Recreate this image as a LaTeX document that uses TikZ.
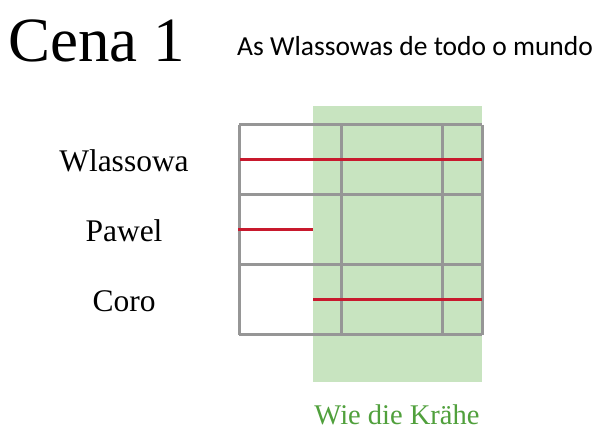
\documentclass[tikz,border=0pt]{standalone}
\usepackage{fontspec}
\setmainfont{Liberation Serif}
\newfontfamily\sansf{Carlito}
\definecolor{gfill}{RGB}{200,228,192}
\definecolor{ggrid}{RGB}{150,150,150}
\definecolor{rline}{RGB}{200,25,45}
\definecolor{gtext}{RGB}{80,160,60}
\tikzset{
  gridline/.style={draw=ggrid,line width=3pt},
  roleline/.style={draw=rline,line width=3pt},
  rolelabel/.style={inner sep=0pt,font=\fontsize{31.5}{36}\selectfont},
}
\begin{document}
\begin{tikzpicture}[x=1pt,y=-1pt]
\useasboundingbox (0,0) rectangle (595,430);
\fill[white] (0,0) rectangle (595,430);
% green band
\fill[gfill] (313,106) rectangle (482,382);
% grid
\foreach \yy in {125,195,265,335} \draw[gridline] (239,\yy) -- (482,\yy);
\foreach \xx in {239,341,442,482} \draw[gridline] (\xx,125) -- (\xx,335);
% red role lines
\coordinate (w1) at (240,160); \coordinate (w2) at (482,160);
\coordinate (p1) at (238,230); \coordinate (p2) at (313,230);
\coordinate (c1) at (313,300); \coordinate (c2) at (482,300);
\draw[roleline] (w1) -- (w2);
\draw[roleline] (p1) -- (p2);
\draw[roleline] (c1) -- (c2);
% texts
\node[anchor=base west,inner sep=0pt,font=\fontsize{63}{72}\selectfont] (title) at (8,62) {Cena 1};
\node[anchor=base west,inner sep=0pt,font=\sansf\fontsize{27.5}{32}\selectfont] (sub) at (237,56) {As Wlassowas de todo o mundo};
\node[rolelabel,anchor=base] (wl) at (124,172) {Wlassowa};
\node[rolelabel,anchor=base] (pa) at (124,242) {Pawel};
\node[rolelabel,anchor=base] (co) at (124,312) {Coro};
\node[anchor=base,inner sep=0pt,text=gtext,font=\fontsize{28.5}{33}\selectfont] (wie) at (397,425) {Wie die Kr\"ahe};
\end{tikzpicture}
\end{document}
